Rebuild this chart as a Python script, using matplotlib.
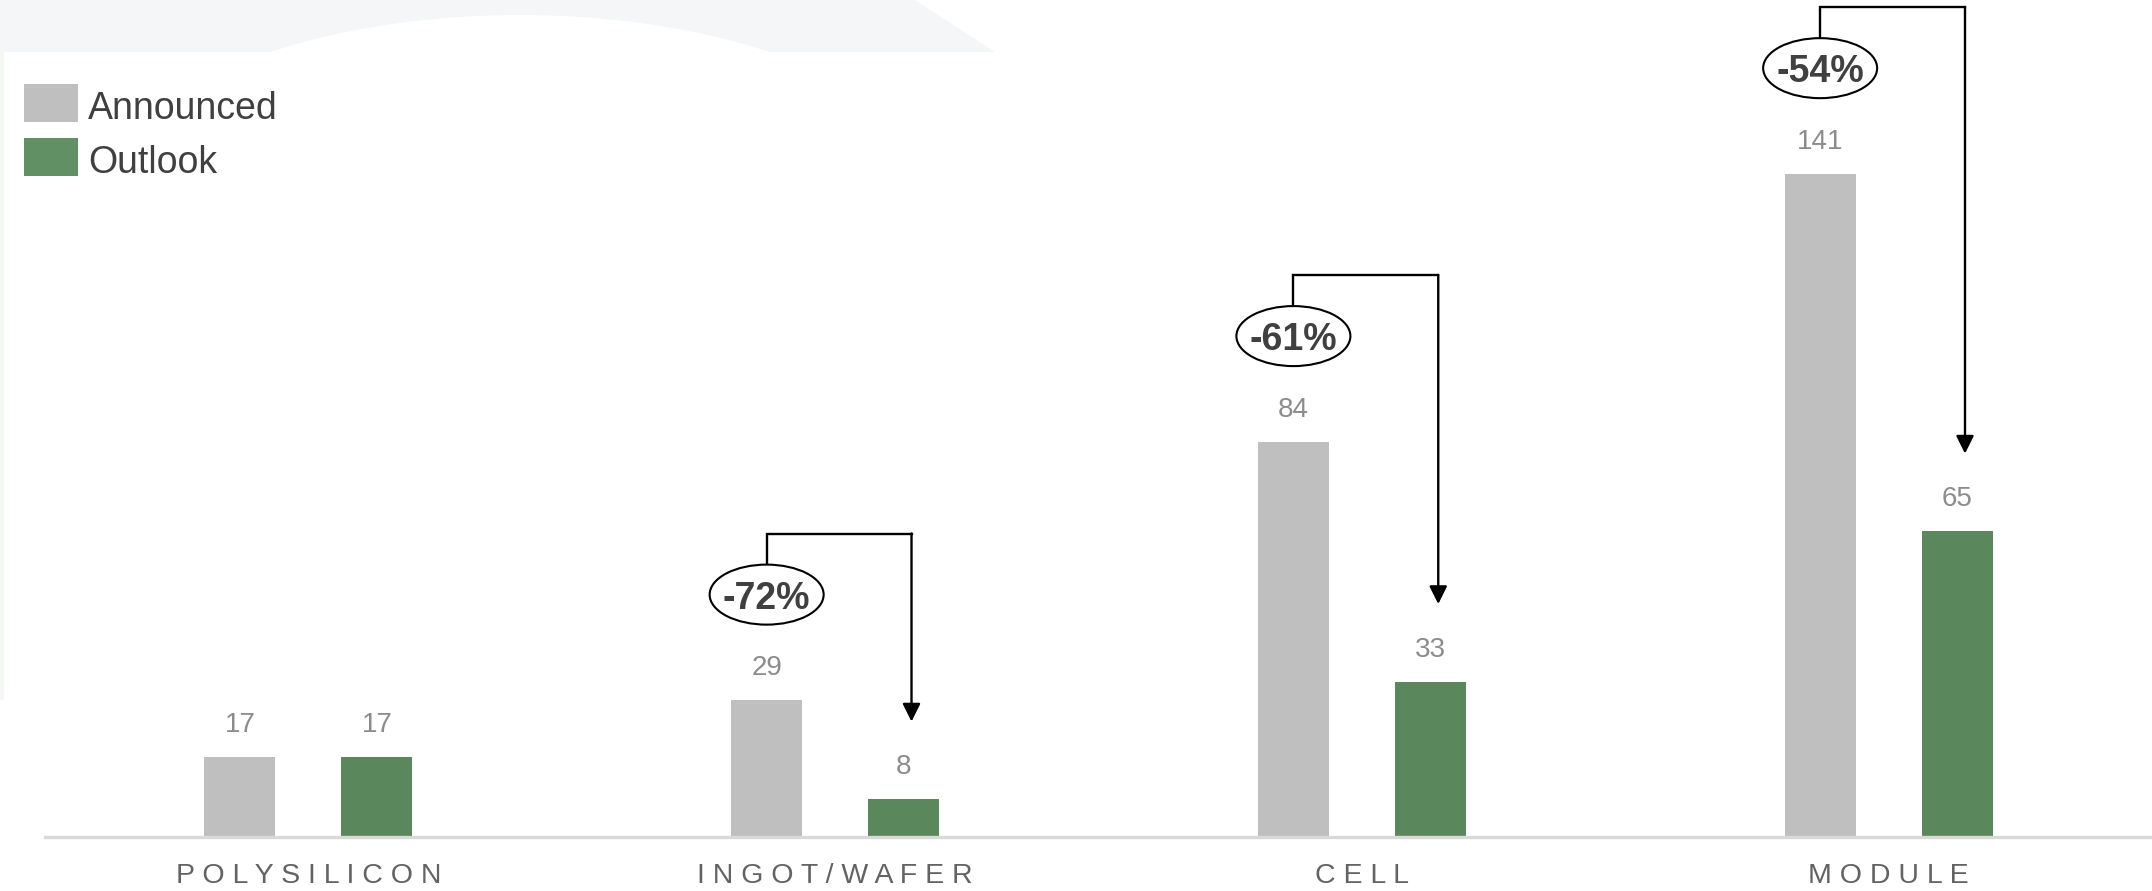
import matplotlib.pyplot as plt
import numpy as np
from matplotlib.patches import Ellipse, Polygon, Rectangle

# data
categories = ["POLYSILICON", "INGOT/WAFER", "CELL", "MODULE"]
announced = [17, 29, 84, 141]
outlook = [17, 8, 33, 65]
changes = [None, "-72%", "-61%", "-54%"]
legend_labels = ["Announced", "Outlook"]

# style
gray = "#bfbfbf"
green = "#5a875c"
label_gray = "#8c8c8c"
cat_gray = "#636363"
dark = "#404040"
W, H = 2152, 891

plt.rcParams["font.family"] = ["Liberation Sans", "DejaVu Sans"]

fig = plt.figure(figsize=(W / 100, H / 100), dpi=100)
fig.patch.set_facecolor("white")


def fx(px):
    return px / W


def fy(py):
    return 1 - py / H


# faint background shapes at the top of the screenshot
bg = Polygon([(fx(0), fy(0)), (fx(915), fy(0)), (fx(995), fy(52)), (fx(0), fy(52))],
             closed=True, transform=fig.transFigure, fc="#f5f6f7", ec="none", zorder=-3)
fig.patches.append(bg)
arc = Ellipse((fx(520), fy(215)), fx(862), 400 / H, transform=fig.transFigure,
              fc="white", ec="none", zorder=-2)
fig.patches.append(arc)
strip = Rectangle((fx(0), fy(700)), fx(4), 648 / H, transform=fig.transFigure,
                  fc="#f5f7f5", ec="none", zorder=-2)
fig.patches.append(strip)

ax = fig.add_axes([fx(45), (H - 836.7) / H, 1 - fx(45), 836.7 / H])
ax.set_facecolor("none")

x = np.arange(len(categories))
bw = 0.135
off = 0.13
ax.bar(x - off, announced, bw, color=gray, zorder=2)
ax.bar(x + off, outlook, bw, color=green, zorder=2)

for xi, a, o in zip(x, announced, outlook):
    ax.annotate(str(a), (xi - off, a), xytext=(0, 23), textcoords="offset points",
                ha="center", va="center", fontsize=20, color=label_gray)
    ax.annotate(str(o), (xi + off, o), xytext=(0, 23), textcoords="offset points",
                ha="center", va="center", fontsize=20, color=label_gray)

# change brackets
for xi, a, o, c in zip(x, announced, outlook, changes):
    if c is None:
        continue
    x0 = xi - off
    x1 = xi + off + 0.015
    ey = a + 22.5
    top = a + 35.5
    tip = o + 16.5
    ax.plot([x0, x0, x1], [ey + 6.4, top, top], color="black", lw=1.7,
            solid_joinstyle="miter", zorder=3)
    ax.annotate("", xy=(x1, tip), xytext=(x1, top),
                arrowprops=dict(arrowstyle="-|>", color="black", lw=1.7,
                                mutation_scale=27, shrinkA=0, shrinkB=0),
                zorder=3)
    ax.add_patch(Ellipse((x0, ey), 114 / 526.75, 60 / 4.7, fc="white",
                         ec="black", lw=1.5, zorder=4))
    ax.text(x0, ey, c, ha="center", va="center_baseline", fontsize=27,
            fontweight="bold", color=dark, zorder=5)

ax.set_xlim(-0.5, 3.5)
ax.set_ylim(0, 178)
for s in ["top", "right", "left"]:
    ax.spines[s].set_visible(False)
ax.spines["bottom"].set_color("#d9d9d9")
ax.spines["bottom"].set_linewidth(2.4)
ax.spines["bottom"].set_zorder(3)
ax.set_yticks([])
ax.set_xticks(x)
ax.set_xticklabels([" ".join(c) for c in categories], fontsize=20.5, color=cat_gray)
ax.tick_params(axis="x", length=0, pad=19)

# legend
for i, (lab, col) in enumerate(zip(legend_labels, [gray, "#609064"])):
    top_px = 84 + i * 54
    fig.patches.append(Rectangle((fx(24), fy(top_px + 38)), fx(54), 38 / H,
                                 transform=fig.transFigure, fc=col, ec="none"))
    fig.text(fx(88), fy(top_px + 21), lab, ha="left", va="center_baseline",
             fontsize=27, color=dark)

fig.savefig("out.png", dpi=100)
